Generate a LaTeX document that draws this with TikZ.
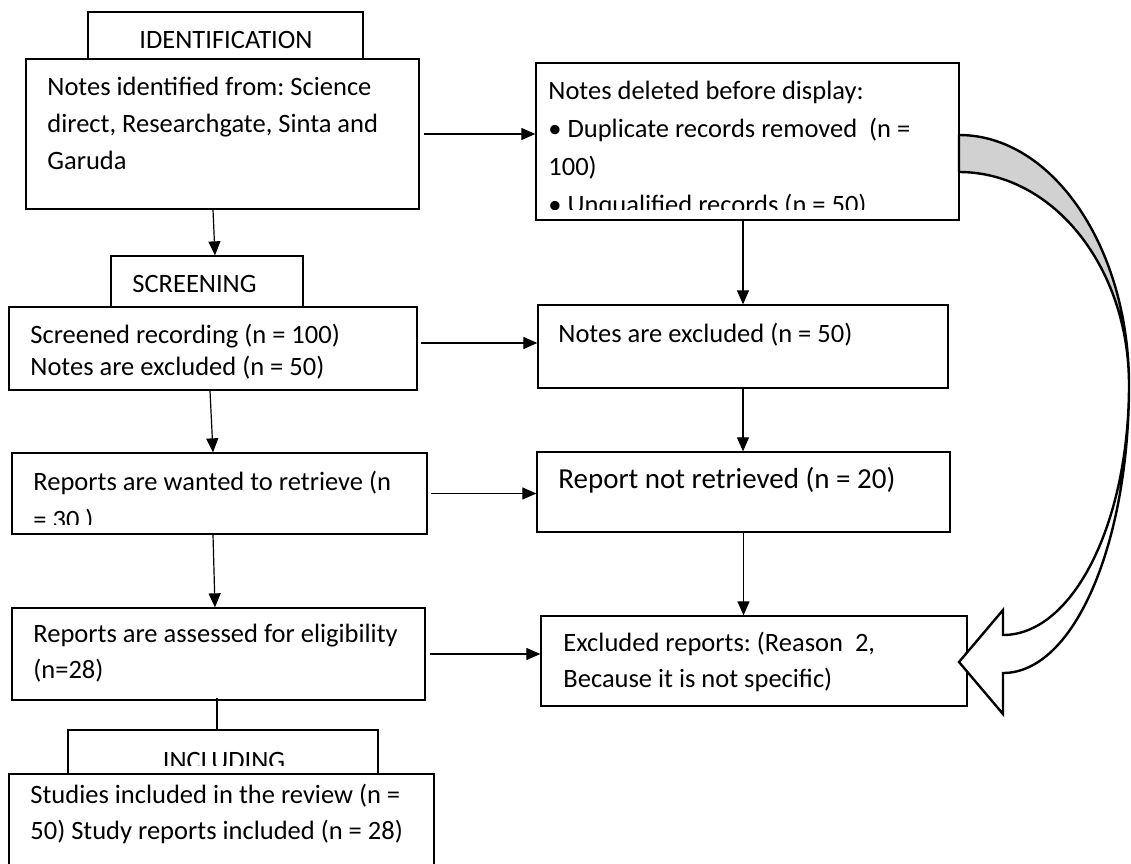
\documentclass[tikz,border=0pt]{standalone}
\usepackage{fontspec}
\setmainfont{Carlito}
\usetikzlibrary{arrows.meta,fit}

\begin{document}
\frenchspacing
\begin{tikzpicture}[x=0.5pt, y=-0.5pt, font=\fontsize{13.25pt}{18.5pt}\selectfont,
  box/.style={draw, line width=0.65pt, fill=white, inner sep=0pt},
  txt/.style={inner sep=0pt, anchor=north west, align=left},
  lbl/.style={inner sep=0pt, anchor=base west},
  arr/.style={-{Triangle[length=7pt, width=6pt]}, line width=0.6pt}]
\clip (0,0) rectangle (1131,863);
% left column
\node[box, fit={(88,12) (363,59)}] (tab1) {};
\node[box, fit={(26,59) (419,209)}] (b1) {};
\node[box, fit={(111,256) (303,307)}] (tab2) {};
\node[box, fit={(9,307) (417,390)}] (b3) {};
\node[box, fit={(12,453) (427,534)}] (b5) {};
\node[box, fit={(12,608) (425,700)}] (b7) {};
\node[box, fit={(68,730) (378,774)}] (tab3) {};
\node[box, fit={(9,774) (434,890)}] (b9) {};
% right column
\node[box, fit={(536,63) (959,220)}] (b2) {};
\node[box, fit={(538,305) (948,388)}] (b4) {};
\node[box, fit={(537,452) (950,532)}] (b6) {};
\node[box, fit={(541,616) (967,706)}] (b8) {};

\node[lbl, anchor=base] (l1) at (226,48) {IDENTIFICATION};
\node[txt] (t1) at (47,77) {Notes identified from: Science\\direct, Researchgate, Sinta and\\Garuda};
\begin{scope}
  \clip (b2.north west) rectangle ([yshift=5.5pt]b2.south east);
  \node[txt, font=\fontsize{13.25pt}{19pt}\selectfont] (t2) at (548,81)
    {Notes deleted before display:\\• Duplicate records removed\ \ (n =\\100)\\• Unqualified records (n = 50)};
\end{scope}
\node[lbl] (l2) at (132,292) {SCREENING};
\node[txt, font=\fontsize{13.25pt}{16pt}\selectfont] (t3) at (30,324)
  {Screened recording (n = 100)\\Notes are excluded (n = 50)};
\node[lbl] (t4) at (558,342) {Notes are excluded (n = 50)};
\begin{scope}
  \clip (b5.north west) rectangle ([yshift=5pt]b5.south east);
  \node[txt, font=\fontsize{13.25pt}{19pt}\selectfont] (t5) at (33,471)
    {Reports are wanted to retrieve (n\\= 30 )};
\end{scope}
\node[lbl, font=\fontsize{14.5pt}{18pt}\selectfont] (t6) at (558,488) {Report not retrieved (n = 20)};
\node[txt, font=\fontsize{13.25pt}{18pt}\selectfont] (t7) at (33,624)
  {Reports are assessed for eligibility\\(n=28)};
\node[txt, font=\fontsize{13.25pt}{18pt}\selectfont] (t8) at (563,632)
  {Excluded reports: (Reason\ \ 2,\\Because it is not specific)};
\begin{scope}
  \clip (tab3.north west) rectangle ([yshift=4.5pt]tab3.south east);
  \node[lbl, anchor=base] (l3) at (224,769) {INCLUDING};
\end{scope}
\node[txt, font=\fontsize{13.25pt}{17.75pt}\selectfont] (t9) at (30,784)
  {Studies included in the review (n =\\50) Study reports included (n = 28)};

% connectors
\draw[arr] ([xshift=2pt]b1.east) -- (b1.east -| b2.west);
\draw[arr] ([xshift=-4.75pt]b1.south) -- ([xshift=4pt]tab2.north);
\draw[arr] ([xshift=1.5pt,yshift=2.75pt]b3.east) -- ([yshift=1.75pt]b4.west);
\draw[arr] ([xshift=-2.25pt]b2.south) -- (b4.north);
\draw[arr] ([xshift=-1.5pt]b3.south) -- ([xshift=-3.25pt]b5.north);
\draw[arr] (b4.south) -- (b4.south |- b6.north);
\draw[arr] ([xshift=1.5pt]b5.east) -- (b5.east -| b6.west);
\draw[arr] ([xshift=-3.25pt]b5.south) -- ([xshift=-1.75pt]b7.north);
\draw[arr] (b6.south) -- (b6.south |- b8.north);
\draw[arr] ([xshift=2pt]b7.east) -- (b7.east -| b8.west);
\draw[line width=0.6pt] ([xshift=-0.75pt,yshift=1.5pt]b7.south) -- ([xshift=-3pt]tab3.north);

% curved block arrow
\filldraw[fill=black!18, line width=1.2pt, line join=round] (959,135)
  .. controls (1053,135) and (1129,248) .. (1129,385)
  .. controls (1129,267) and (1053,172) .. (959,172) -- cycle;
\filldraw[fill=white, line width=1.2pt] (1129,385)
  .. controls (1129,544) and (1074,673) .. (1003,673) -- (1003,714) -- (959,662)
  -- (1003,610) -- (1003,635) .. controls (1073,635) and (1129,523) .. (1129,385) -- cycle;
\end{tikzpicture}
\end{document}
